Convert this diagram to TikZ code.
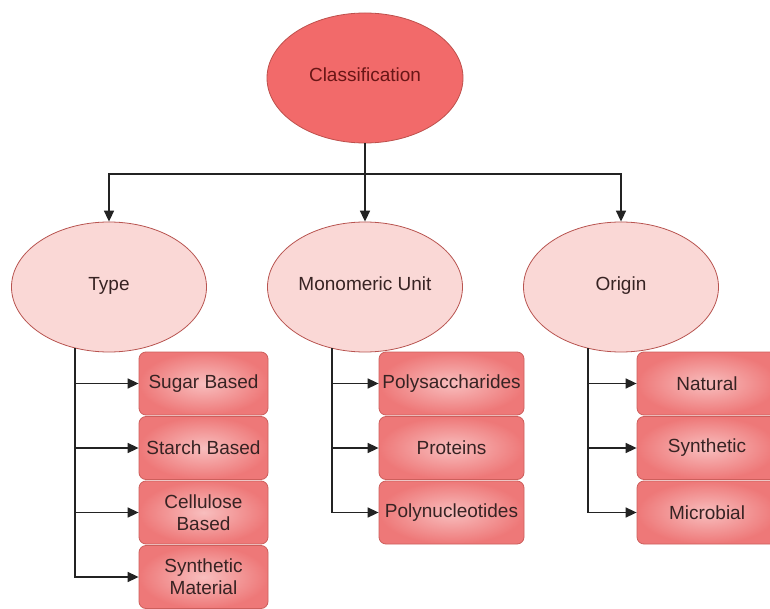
\documentclass[tikz,border=0pt]{standalone}
\usepackage{fontspec}
\setmainfont{Liberation Sans}
\usetikzlibrary{shapes.geometric,arrows.meta}
\definecolor{topfill}{RGB}{242,106,106}
\definecolor{topdraw}{RGB}{190,80,76}
\definecolor{midfill}{RGB}{250,216,214}
\definecolor{middraw}{RGB}{184,84,80}
\definecolor{boxin}{RGB}{248,190,190}
\definecolor{boxout}{RGB}{238,120,120}
\definecolor{boxdraw}{RGB}{205,95,92}
\definecolor{txt}{RGB}{55,35,35}
\definecolor{toptxt}{RGB}{105,22,22}
\definecolor{ln}{RGB}{35,35,35}
\tikzset{
  topell/.style={ellipse, draw=topdraw, fill=topfill, line width=0.8pt, minimum width=196pt, minimum height=130pt, inner sep=0pt, text=toptxt, font=\fontsize{19}{21}\selectfont, text height=0.72em, text depth=0em},
  midell/.style={ellipse, draw=middraw, fill=midfill, line width=0.8pt, minimum width=195pt, minimum height=130pt, inner sep=0pt, text=txt, font=\fontsize{19}{21}\selectfont, text height=0.72em, text depth=0em},
  leafbox/.style={rectangle, rounded corners=7pt, draw=boxdraw, line width=0.8pt, inner color=boxin, outer color=boxout, minimum height=63pt, inner sep=0pt, align=center, text=txt, font=\fontsize{19}{22}\selectfont},
  conn/.style={draw=ln, line width=1.6pt, -{Triangle[length=11pt,width=10pt]}}
}
\begin{document}
\begin{tikzpicture}[x=1pt,y=-1pt]
\useasboundingbox (0,0) rectangle (770,609);
\clip (0,0) rectangle (770,609);
\fill[white] (0,0) rectangle (770,609);
% top
\node[topell] (cls) at (365,78) {Classification};
% second level
\node[midell] (type) at (109,287) {Type};
\node[midell] (mono) at (365,287) {Monomeric Unit};
\node[midell] (orig) at (621,287) {Origin};
% leaf boxes
\node[leafbox, minimum width=129pt] (t1) at (203.5,383.5) {Sugar Based};
\node[leafbox, minimum width=129pt] (t2) at (203.5,448) {Starch Based};
\node[leafbox, minimum width=129pt] (t3) at (203.5,512.5) {Cellulose\\Based};
\node[leafbox, minimum width=129pt] (t4) at (203.5,577) {Synthetic\\Material};
\node[leafbox, minimum width=145pt] (m1) at (451.5,383.5) {Polysaccharides};
\node[leafbox, minimum width=145pt] (m2) at (451.5,448) {Proteins};
\node[leafbox, minimum width=145pt] (m3) at (451.5,512.5) {Polynucleotides};
\node[leafbox, minimum width=140pt] (o1) at (707,383.5) {Natural};
\node[leafbox, minimum width=140pt] (o2) at (707,448) {Synthetic};
\node[leafbox, minimum width=140pt] (o3) at (707,512.5) {Microbial};
% top connectors
\coordinate (bus) at (365,174);
\draw[conn] (cls.south) -- (mono.north);
\draw[conn] (cls.south) |- (bus) -| (type.north);
\draw[conn] (cls.south) |- (bus) -| (orig.north);
% branch start points
\coordinate (ts) at (75,348);
\coordinate (ms) at (332,348);
\coordinate (os) at (588,348);
\foreach \b in {t1,t2,t3,t4} \draw[conn] (ts) |- (\b.west);
\foreach \b in {m1,m2,m3} \draw[conn] (ms) |- (\b.west);
\foreach \b in {o1,o2,o3} \draw[conn] (os) |- (\b.west);
\end{tikzpicture}
\end{document}
